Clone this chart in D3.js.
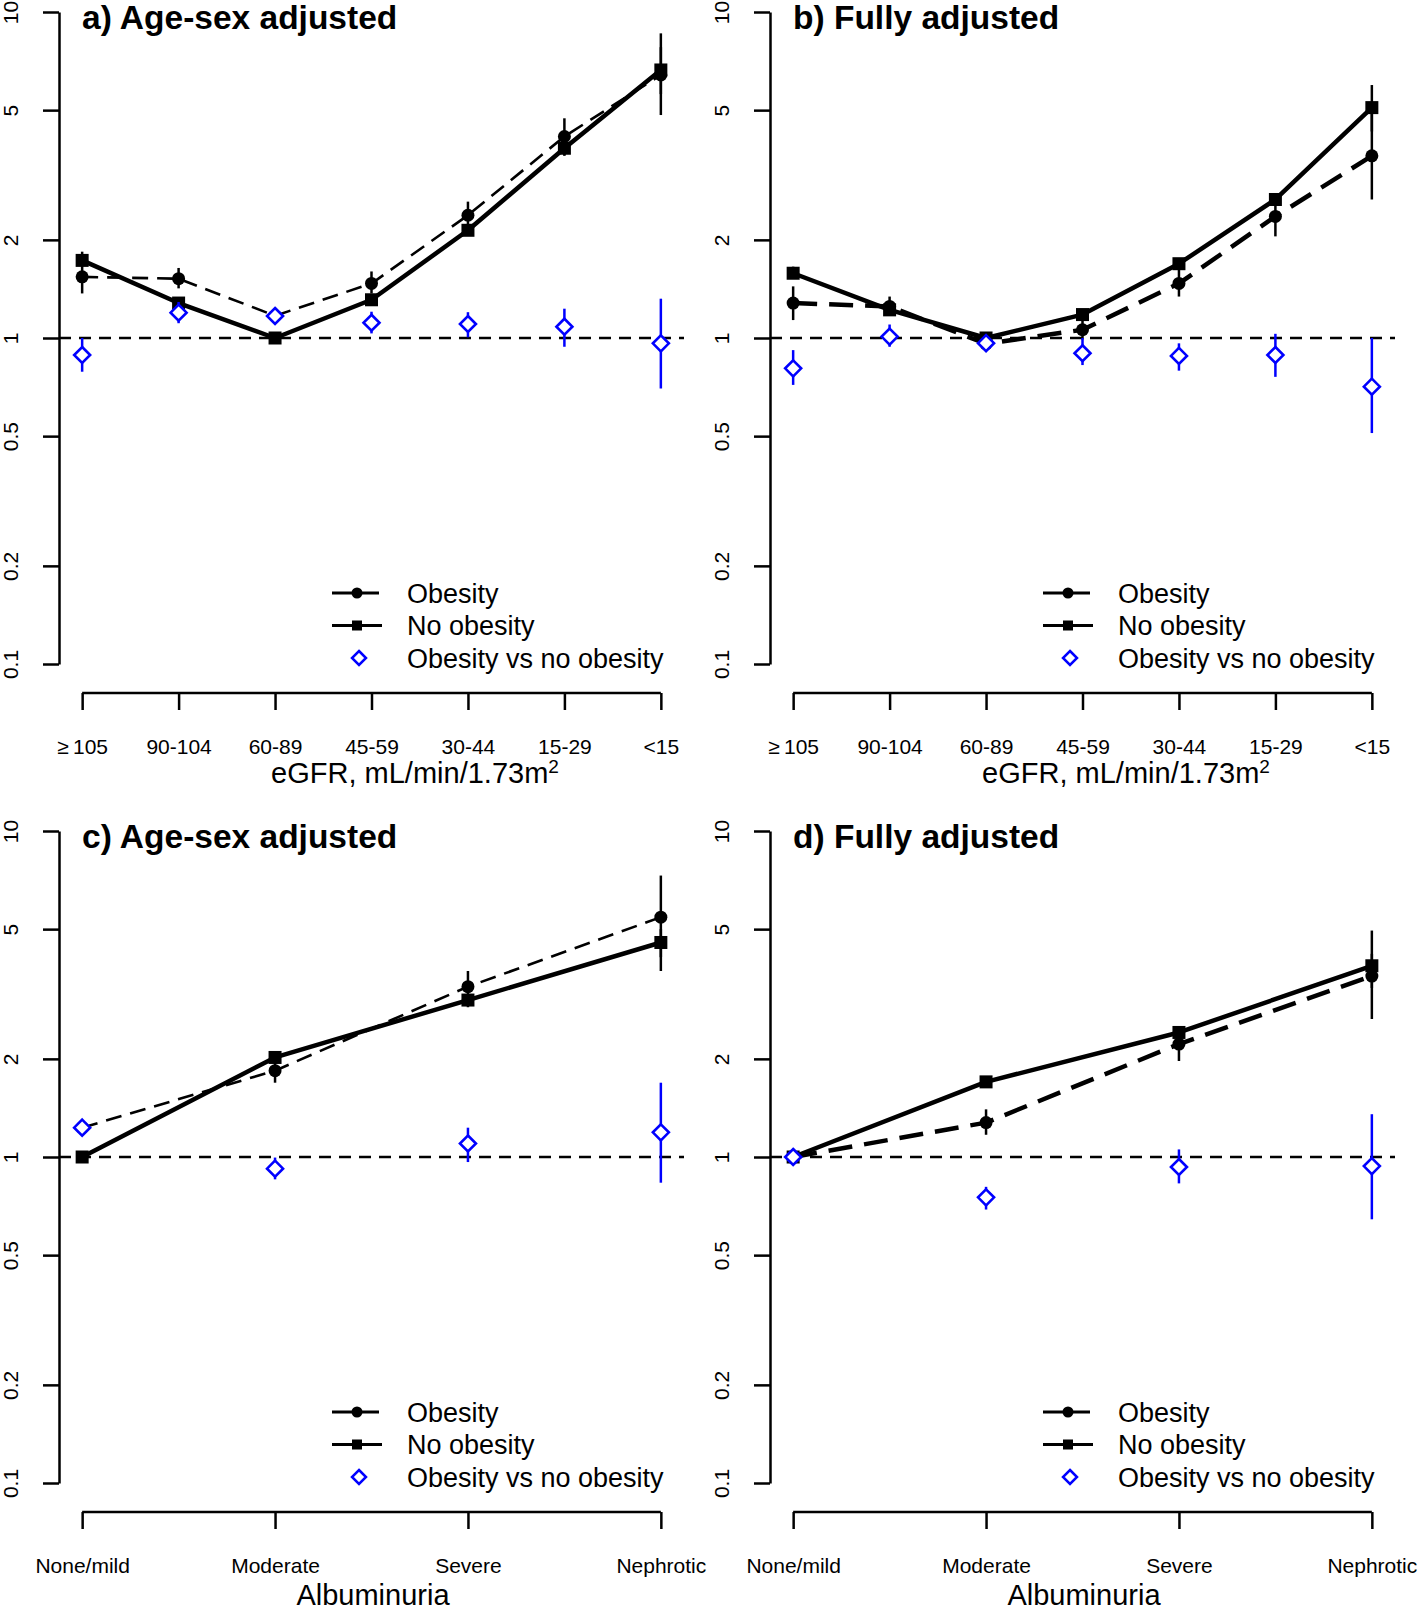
<!DOCTYPE html>
<html>
<head>
<meta charset="utf-8">
<script src="https://cdn.jsdelivr.net/npm/d3@7"></script>
<style>
  body { margin: 0; background: #fff; }
  svg { display: block; font-family: "Liberation Sans", Arial, Helvetica, sans-serif; }
</style>
</head>
<body>
<div id="chart"></div>
<script>
// categories
const egfrLabels = ["\u2265\u2009105", "90-104", "60-89", "45-59", "30-44", "15-29", "<15"];
const albLabels = ["None/mild", "Moderate", "Severe", "Nephrotic"];
const titles = ["a) Age-sex adjusted", "b) Fully adjusted", "c) Age-sex adjusted", "d) Fully adjusted"];
const yTicks = [0.1, 0.2, 0.5, 1, 2, 5, 10];

// a) eGFR, age-sex adjusted
const aObes      = [1.54, 1.52, 1.17, 1.47, 2.38, 4.15, 6.41];
const aObesLo    = [1.37, 1.42, null, 1.37, 2.14, 3.64, 4.83];
const aObesHi    = [1.72, 1.64, null, 1.60, 2.62, 4.72, 8.6];
const aNoObes    = [1.73, 1.28, 1.0, 1.31, 2.14, 3.82, 6.64];
const aNoObesLo  = [1.66, 1.24, null, 1.27, 2.08, 3.62, 5.6];
const aNoObesHi  = [1.84, 1.32, null, 1.36, 2.2, 4.0, 7.8];
const aRatio     = [0.887, 1.196, 1.168, 1.114, 1.104, 1.083, 0.963];
const aRatioLo   = [0.788, 1.11, null, 1.033, 1.005, 0.94, 0.70];
const aRatioHi   = [1.0, 1.29, null, 1.204, 1.20, 1.23, 1.32];

// b) eGFR, fully adjusted
const bObes      = [1.28, 1.25, 0.96, 1.06, 1.47, 2.36, 3.62];
const bObesLo    = [1.135, 1.18, null, 0.99, 1.34, 2.05, 2.66];
const bObesHi    = [1.44, 1.34, null, 1.13, 1.62, 2.65, 4.9];
const bNoObes    = [1.58, 1.22, 1.0, 1.18, 1.69, 2.66, 5.09];
const bNoObesLo  = [1.52, 1.18, null, 1.14, 1.64, 2.56, 4.3];
const bNoObesHi  = [1.655, 1.27, null, 1.22, 1.75, 2.78, 5.97];
const bRatio     = [0.807, 1.01, 0.964, 0.898, 0.881, 0.887, 0.709];
const bRatioLo   = [0.718, 0.94, null, 0.826, 0.794, 0.76, 0.511];
const bRatioHi   = [0.918, 1.10, null, 1.0, 0.963, 1.03, 1.0];

// c) albuminuria, age-sex adjusted
const cObes      = [1.23, 1.84, 3.33, 5.44];
const cObesLo    = [null, 1.69, 3.05, 4.1];
const cObesHi    = [null, 1.95, 3.72, 7.3];
const cNoObes    = [1.0, 2.02, 3.03, 4.55];
const cNoObesLo  = [null, 1.93, 2.88, 3.72];
const cNoObesHi  = [null, 2.1, 3.12, 5.0];
const cRatio     = [1.23, 0.921, 1.10, 1.19];
const cRatioLo   = [null, 0.854, 0.965, 0.834];
const cRatioHi   = [null, 0.996, 1.23, 1.69];

// d) albuminuria, fully adjusted
const dObes      = [1.0, 1.275, 2.22, 3.59];
const dObesLo    = [null, 1.17, 1.97, 2.65];
const dObesHi    = [null, 1.40, 2.47, 4.2];
const dNoObes    = [1.0, 1.70, 2.41, 3.86];
const dNoObesLo  = [null, 1.66, 2.25, 3.3];
const dNoObesHi  = [null, 1.75, 2.52, 4.95];
const dRatio     = [1.0, 0.752, 0.932, 0.938];
const dRatioLo   = [null, 0.69, 0.83, 0.644];
const dRatioHi   = [null, 0.81, 1.055, 1.353];

const width = 1418, height = 1611;
const blue = "#0000ff";

const svg = d3.select("#chart").append("svg")
    .attr("width", width)
    .attr("height", height);
svg.append("rect").attr("width", width).attr("height", height).attr("fill", "#fff");

const panels = [
    {dx: 0,   dy: 0,   title: titles[0], labels: egfrLabels, thick: false, xTitle: "egfr",
     obes: [aObes, aObesLo, aObesHi], noObes: [aNoObes, aNoObesLo, aNoObesHi], ratio: [aRatio, aRatioLo, aRatioHi]},
    {dx: 711, dy: 0,   title: titles[1], labels: egfrLabels, thick: true, xTitle: "egfr",
     obes: [bObes, bObesLo, bObesHi], noObes: [bNoObes, bNoObesLo, bNoObesHi], ratio: [bRatio, bRatioLo, bRatioHi]},
    {dx: 0,   dy: 819, title: titles[2], labels: albLabels, thick: false, xTitle: "alb",
     obes: [cObes, cObesLo, cObesHi], noObes: [cNoObes, cNoObesLo, cNoObesHi], ratio: [cRatio, cRatioLo, cRatioHi]},
    {dx: 711, dy: 819, title: titles[3], labels: albLabels, thick: true, xTitle: "alb",
     obes: [dObes, dObesLo, dObesHi], noObes: [dNoObes, dNoObesLo, dNoObesHi], ratio: [dRatio, dRatioLo, dRatioHi]}
];

function diamond(s) {
    return `M0,${-s}L${s},0L0,${s}L${-s},0Z`;
}

function errBars(g, x, y, lo, hi, color, w) {
    const idx = d3.range(lo.length).filter(i => lo[i] != null);
    g.append("g").selectAll("line")
        .data(idx)
        .enter().append("line")
        .attr("x1", i => x(i + 1)).attr("x2", i => x(i + 1))
        .attr("y1", i => y(lo[i])).attr("y2", i => y(hi[i]))
        .attr("stroke", color)
        .attr("stroke-width", w);
}

function drawPanel(p) {
    let g = svg.append("g").attr("transform", "translate(" + [p.dx, p.dy] + ")");
    let n = p.labels.length;
    let pad = (n - 1) * 0.04;
    let x = d3.scaleLinear().domain([1 - pad, n + pad]).range([59, 684]);
    let y = d3.scaleLog().domain([0.1, 10]).range([664, 12]);

    // y axis
    let yAxis = g.append("g")
        .attr("transform", "translate(59,0)")
        .call(d3.axisLeft(y).tickValues(yTicks).tickFormat(d => String(d)).tickSize(16).tickSizeOuter(0));
    yAxis.select(".domain").attr("stroke-width", 2.5);
    yAxis.selectAll(".tick line").attr("stroke-width", 2.5);
    yAxis.selectAll(".tick text")
        .attr("transform", "rotate(-90)")
        .attr("x", 0).attr("y", -41).attr("dy", 0)
        .attr("text-anchor", "middle")
        .attr("font-size", 21)
        .attr("fill", "#000");

    // x axis (line only between first and last tick)
    let xAxis = g.append("g")
        .attr("transform", "translate(0,693)")
        .call(d3.axisBottom(x).tickValues(d3.range(1, n + 1)).tickFormat(i => p.labels[i - 1]).tickSize(17).tickSizeOuter(0));
    xAxis.select(".domain").remove();
    xAxis.append("line")
        .attr("x1", x(1)).attr("x2", x(n))
        .attr("stroke", "#000").attr("stroke-width", 2.5);
    xAxis.selectAll(".tick line").attr("stroke-width", 2.5);
    xAxis.selectAll(".tick text")
        .attr("y", 61).attr("dy", 0)
        .attr("font-size", 21)
        .attr("fill", "#000");

    // x axis title
    if (p.xTitle === "egfr") {
        let t = g.append("text")
            .attr("x", 415).attr("y", 783)
            .attr("text-anchor", "middle")
            .attr("font-size", 29);
        t.append("tspan").text("eGFR, mL/min/1.73m");
        t.append("tspan").attr("dy", -10).attr("font-size", 19).text("2");
    } else {
        g.append("text")
            .attr("x", 373).attr("y", 786)
            .attr("text-anchor", "middle")
            .attr("font-size", 29)
            .text("Albuminuria");
    }

    // title
    g.append("text")
        .attr("x", 82).attr("y", 29)
        .attr("font-size", 33.5)
        .attr("font-weight", "bold")
        .text(p.title);

    // reference line at 1
    g.append("line")
        .attr("x1", 59).attr("x2", 684)
        .attr("y1", y(1)).attr("y2", y(1))
        .attr("stroke", "#000").attr("stroke-width", 2.6)
        .attr("stroke-dasharray", "12,8");

    // black error bars
    errBars(g, x, y, p.obes[1], p.obes[2], "#000", 2.5);
    errBars(g, x, y, p.noObes[1], p.noObes[2], "#000", 2.5);

    let line = d3.line().x((d, i) => x(i + 1)).y(d => y(d));

    g.append("path")
        .datum(p.noObes[0])
        .attr("d", line)
        .attr("fill", "none")
        .attr("stroke", "#000")
        .attr("stroke-width", 4.5)
        .attr("stroke-linejoin", "round");

    g.append("path")
        .datum(p.obes[0])
        .attr("d", line)
        .attr("fill", "none")
        .attr("stroke", "#000")
        .attr("stroke-width", p.thick ? 4.5 : 2.6)
        .attr("stroke-dasharray", p.thick ? "24,12" : "16,9");

    g.append("g").selectAll("rect")
        .data(p.noObes[0])
        .enter().append("rect")
        .attr("x", (d, i) => x(i + 1) - 6.5)
        .attr("y", d => y(d) - 6.5)
        .attr("width", 13).attr("height", 13)
        .attr("fill", "#000");

    g.append("g").selectAll("circle")
        .data(p.obes[0])
        .enter().append("circle")
        .attr("cx", (d, i) => x(i + 1))
        .attr("cy", d => y(d))
        .attr("r", 6.5)
        .attr("fill", "#000");

    // obesity vs no obesity
    errBars(g, x, y, p.ratio[1], p.ratio[2], blue, 2.5);
    g.append("g").selectAll("path")
        .data(p.ratio[0])
        .enter().append("path")
        .attr("transform", (d, i) => "translate(" + [x(i + 1), y(d)] + ")")
        .attr("d", diamond(8))
        .attr("fill", "#fff")
        .attr("stroke", blue)
        .attr("stroke-width", 2.6);

    // legend
    let leg = g.append("g");
    let rows = [
        {label: "Obesity", type: "circle", y: 593},
        {label: "No obesity", type: "square", y: 625.5},
        {label: "Obesity vs no obesity", type: "diamond", y: 658}
    ];
    rows.forEach(r => {
        if (r.type !== "diamond") {
            leg.append("line")
                .attr("x1", 332).attr("x2", r.type === "square" ? 382 : 379)
                .attr("y1", r.y).attr("y2", r.y)
                .attr("stroke", "#000").attr("stroke-width", 2.8);
        }
        if (r.type === "circle") {
            leg.append("circle").attr("cx", 357).attr("cy", r.y).attr("r", 5.5).attr("fill", "#000");
        } else if (r.type === "square") {
            leg.append("rect").attr("x", 352).attr("y", r.y - 5).attr("width", 10).attr("height", 10).attr("fill", "#000");
        } else {
            leg.append("path")
                .attr("transform", "translate(" + [359, r.y] + ")")
                .attr("d", diamond(7))
                .attr("fill", "#fff").attr("stroke", blue).attr("stroke-width", 2.5);
        }
        leg.append("text")
            .attr("x", 407).attr("y", r.y)
            .attr("dy", "0.36em")
            .attr("font-size", 27)
            .text(r.label);
    });
}

panels.forEach(drawPanel);
</script>
</body>
</html>
